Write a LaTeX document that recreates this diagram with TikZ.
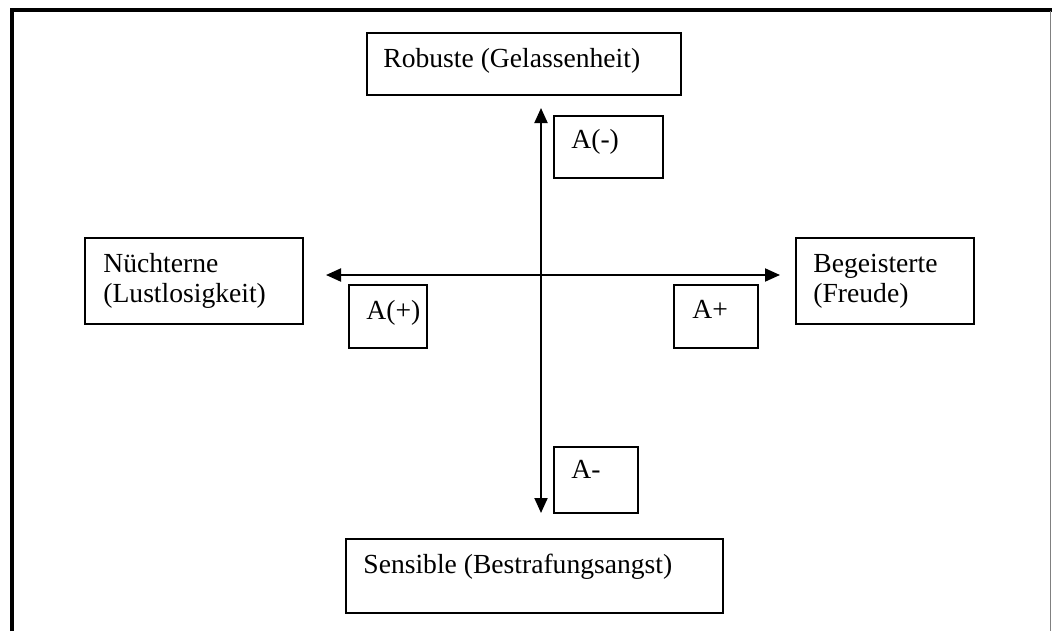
\documentclass[tikz,border=0pt]{standalone}
\usepackage{fontspec}
\setmainfont{Liberation Serif}
\usetikzlibrary{arrows.meta}
\begin{document}
\begin{tikzpicture}[x=0.5pt,y=-0.5pt,
  box/.style 2 args={draw=black,line width=1pt,anchor=north west,inner sep=0pt,
    minimum width=#1*0.5pt,minimum height=#2*0.5pt},
  lbl/.style={anchor=base west,inner sep=0pt,font=\fontsize{13.8}{15}\selectfont,
    align=left},
  axis/.style={line width=1pt,{Triangle[length=7.5pt,width=6.5pt]}-{Triangle[length=7.5pt,width=6.5pt]}}]
\useasboundingbox (0,0) rectangle (1052,631);
% page frame: heavy left and top rules, thin grey right rule
\draw[line width=2pt] (12,631) -- (12,10) -- (1052,10);
\draw[line width=0.8pt,gray] (1050.5,11) -- (1050.5,631);

% category boxes
\node[box={314}{62}] (rob) at (366,32) {};
\node[box={218}{86}] (nue) at (84,237) {};
\node[box={178}{86}] (beg) at (795,237) {};
\node[box={377}{74}] (sen) at (345,538) {};
% axis labels
\node[box={109}{62}] (am) at (553,115) {};
\node[box={78}{63}] (ap) at (348,284) {};
\node[box={84}{63}] (apl) at (673,284) {};
\node[box={84}{66}] (ami) at (553,446) {};

% texts (two-line labels are anchored at the baseline of their last line)
\node[lbl] (trob) at (383,68) {Robuste (Gelassenheit)};
\node[lbl] (tnue) at (103,302) {Nüchterne\\(Lustlosigkeit)};
\node[lbl] (tbeg) at (813,302) {Begeisterte\\(Freude)};
\node[lbl] (tsen) at (363,573) {Sensible (Bestrafungsangst)};
\node[lbl] (tam) at (571,148) {A(-)};
\node[lbl] (tap) at (366,319) {A(+)};
\node[lbl] (tapl) at (692,318) {A+};
\node[lbl] (tami) at (571,478) {A-};

% axes
\coordinate (vtop) at (541,108);
\coordinate (vbot) at (541,513);
\coordinate (hl) at (326,275);
\coordinate (hr) at (780,275);
\draw[axis] (vbot) -- (vtop);
\draw[axis] (hl) -- (hr);
\end{tikzpicture}
\end{document}
